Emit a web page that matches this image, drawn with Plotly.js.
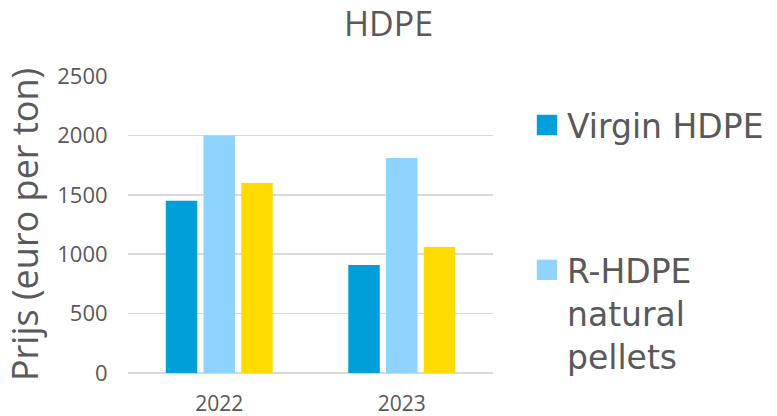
<!DOCTYPE html>
<html>
<head>
<meta charset="utf-8">
<script src="https://cdn.plot.ly/plotly-3.0.1.min.js"></script>
<style>html,body{margin:0;padding:0;background:#fff}#chart{width:777px;height:416px}</style>
</head>
<body>
<div id="chart"></div>
<script>
const years = ["2022", "2023"];
const virginHDPE = [1450, 910];
const rHDPENatural = [2000, 1810];
const thirdSeries = [1600, 1060];
const yTicks = [0, 500, 1000, 1500, 2000, 2500];

const traces = [
  {type: "bar", x: years, y: virginHDPE, name: "Virgin HDPE", marker: {color: "#009FDA"}, legendgroup: "a"},
  {type: "bar", x: years, y: rHDPENatural, name: "R-HDPE<br>natural<br>pellets", marker: {color: "#8FD3FF"}, legendgroup: "b"},
  {type: "bar", x: years, y: thirdSeries, name: "Reeks 3", marker: {color: "#FFDB00"}, showlegend: false, legendgroup: "c"}
];

const layout = {
  width: 777, height: 416,
  margin: {l: 128, r: 284, t: 76, b: 43},
  paper_bgcolor: "#ffffff", plot_bgcolor: "#ffffff",
  barmode: "group", bargap: 0.38, bargroupgap: 0.165,
  font: {family: "Open Sans, sans-serif", color: "#595959"},
  title: {text: "HDPE", font: {size: 34, color: "#595959", family: "Open Sans, sans-serif"},
          x: 0.5, xref: "container", xanchor: "center", y: 1 - 24/416, yref: "container", yanchor: "middle"},
  xaxis: {type: "category", showgrid: false, showline: false, zeroline: false,
          ticks: "outside", ticklen: 12, tickcolor: "rgba(0,0,0,0)",
          tickfont: {size: 21, color: "#595959"}},
  yaxis: {range: [0, 2500], tickvals: yTicks, showgrid: true, gridcolor: "#D9D9D9", gridwidth: 1.5,
          zeroline: true, zerolinecolor: "#D9D9D9", zerolinewidth: 1.5, showline: false,
          ticks: "outside", ticklen: 15, tickcolor: "rgba(0,0,0,0)",
          tickfont: {size: 22, color: "#595959"},
          title: {text: "Prijs (euro per ton)", font: {size: 36, color: "#595959"}, standoff: 12}},
  legend: {xref: "container", yref: "container", x: 527/777, y: 1 - 97/416, xanchor: "left", yanchor: "top",
           traceorder: "grouped", tracegroupgap: 99, valign: "top", maxheight: 400,
           font: {family: "DejaVu Sans, sans-serif", size: 33, color: "#595959"}, bgcolor: "rgba(0,0,0,0)"},
  showlegend: true
};

Plotly.newPlot("chart", traces, layout, {displayModeBar: false, staticPlot: true}).then(function () {
  document.querySelectorAll(".legendpoints path").forEach(function (p) {
    const t = p.getAttribute("transform") || "";
    p.setAttribute("transform", t + " scale(1.7)");
  });
});
</script>
</body>
</html>
